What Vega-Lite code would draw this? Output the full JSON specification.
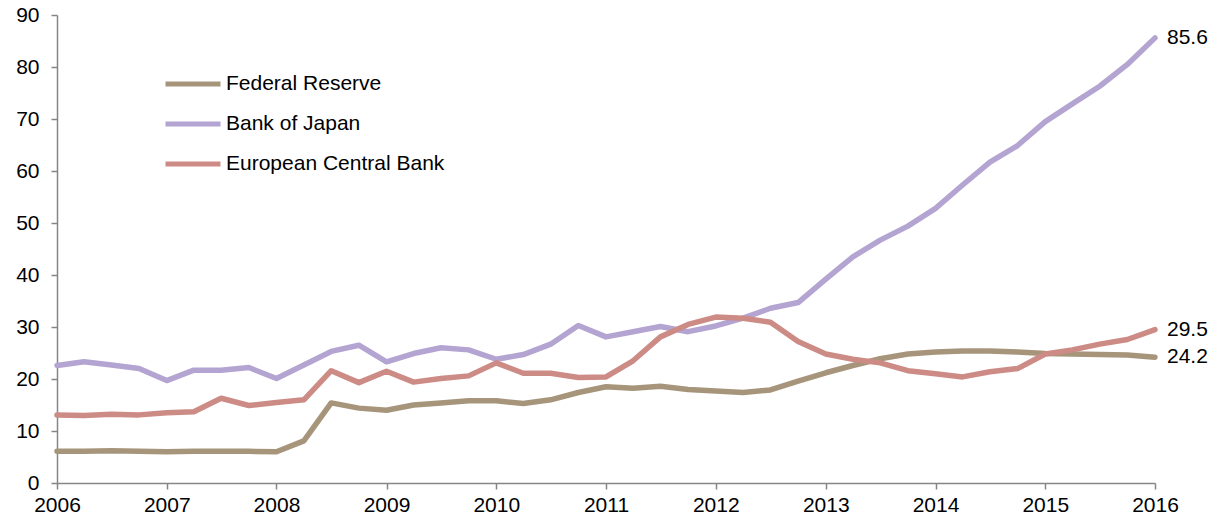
{
  "$schema": "https://vega.github.io/schema/vega-lite/v6.json",
  "width": 1098,
  "height": 468,
  "autosize": {"type": "none"},
  "padding": {"left": 57, "top": 15, "right": 65, "bottom": 37},
  "background": "white",
  "config": {
    "view": {"stroke": null},
    "font": "Liberation Sans",
    "axis": {
      "grid": false,
      "domainColor": "#868686",
      "domainWidth": 1.5,
      "tickColor": "#868686",
      "tickWidth": 1.5,
      "tickSize": 6,
      "labelFont": "Liberation Sans",
      "labelFontSize": 21,
      "labelColor": "#000000",
      "title": null
    }
  },
  "data": {
    "values": [
      {"date": "2006-01-01", "Federal Reserve": 6.1, "Bank of Japan": 22.6, "European Central Bank": 13.1},
      {"date": "2006-04-01", "Federal Reserve": 6.1, "Bank of Japan": 23.3, "European Central Bank": 13.0},
      {"date": "2006-07-01", "Federal Reserve": 6.2, "Bank of Japan": 22.7, "European Central Bank": 13.2},
      {"date": "2006-10-01", "Federal Reserve": 6.1, "Bank of Japan": 22.0, "European Central Bank": 13.1},
      {"date": "2007-01-01", "Federal Reserve": 6.0, "Bank of Japan": 19.7, "European Central Bank": 13.5},
      {"date": "2007-04-01", "Federal Reserve": 6.1, "Bank of Japan": 21.7, "European Central Bank": 13.7},
      {"date": "2007-07-01", "Federal Reserve": 6.1, "Bank of Japan": 21.7, "European Central Bank": 16.3},
      {"date": "2007-10-01", "Federal Reserve": 6.1, "Bank of Japan": 22.2, "European Central Bank": 14.9},
      {"date": "2008-01-01", "Federal Reserve": 6.0, "Bank of Japan": 20.1, "European Central Bank": 15.5},
      {"date": "2008-04-01", "Federal Reserve": 8.1, "Bank of Japan": 22.7, "European Central Bank": 16.0},
      {"date": "2008-07-01", "Federal Reserve": 15.4, "Bank of Japan": 25.3, "European Central Bank": 21.6},
      {"date": "2008-10-01", "Federal Reserve": 14.4, "Bank of Japan": 26.5, "European Central Bank": 19.3},
      {"date": "2009-01-01", "Federal Reserve": 14.0, "Bank of Japan": 23.3, "European Central Bank": 21.5},
      {"date": "2009-04-01", "Federal Reserve": 15.0, "Bank of Japan": 24.9, "European Central Bank": 19.4},
      {"date": "2009-07-01", "Federal Reserve": 15.4, "Bank of Japan": 26.0, "European Central Bank": 20.1},
      {"date": "2009-10-01", "Federal Reserve": 15.8, "Bank of Japan": 25.6, "European Central Bank": 20.6},
      {"date": "2010-01-01", "Federal Reserve": 15.8, "Bank of Japan": 23.8, "European Central Bank": 23.1},
      {"date": "2010-04-01", "Federal Reserve": 15.3, "Bank of Japan": 24.7, "European Central Bank": 21.1},
      {"date": "2010-07-01", "Federal Reserve": 16.0, "Bank of Japan": 26.7, "European Central Bank": 21.1},
      {"date": "2010-10-01", "Federal Reserve": 17.4, "Bank of Japan": 30.3, "European Central Bank": 20.3},
      {"date": "2011-01-01", "Federal Reserve": 18.5, "Bank of Japan": 28.1, "European Central Bank": 20.4},
      {"date": "2011-04-01", "Federal Reserve": 18.2, "Bank of Japan": 29.1, "European Central Bank": 23.5},
      {"date": "2011-07-01", "Federal Reserve": 18.6, "Bank of Japan": 30.1, "European Central Bank": 28.1},
      {"date": "2011-10-01", "Federal Reserve": 18.0, "Bank of Japan": 29.1, "European Central Bank": 30.5},
      {"date": "2012-01-01", "Federal Reserve": 17.7, "Bank of Japan": 30.2, "European Central Bank": 31.9},
      {"date": "2012-04-01", "Federal Reserve": 17.4, "Bank of Japan": 31.7, "European Central Bank": 31.7},
      {"date": "2012-07-01", "Federal Reserve": 17.9, "Bank of Japan": 33.6, "European Central Bank": 30.9},
      {"date": "2012-10-01", "Federal Reserve": 19.6, "Bank of Japan": 34.7, "European Central Bank": 27.2},
      {"date": "2013-01-01", "Federal Reserve": 21.2, "Bank of Japan": 39.2, "European Central Bank": 24.8},
      {"date": "2013-04-01", "Federal Reserve": 22.6, "Bank of Japan": 43.5, "European Central Bank": 23.8},
      {"date": "2013-07-01", "Federal Reserve": 23.9, "Bank of Japan": 46.7, "European Central Bank": 23.1},
      {"date": "2013-10-01", "Federal Reserve": 24.8, "Bank of Japan": 49.4, "European Central Bank": 21.6},
      {"date": "2014-01-01", "Federal Reserve": 25.2, "Bank of Japan": 52.8, "European Central Bank": 21.0},
      {"date": "2014-04-01", "Federal Reserve": 25.4, "Bank of Japan": 57.3, "European Central Bank": 20.4},
      {"date": "2014-07-01", "Federal Reserve": 25.4, "Bank of Japan": 61.7, "European Central Bank": 21.4},
      {"date": "2014-10-01", "Federal Reserve": 25.2, "Bank of Japan": 64.9, "European Central Bank": 22.0},
      {"date": "2015-01-01", "Federal Reserve": 24.9, "Bank of Japan": 69.5, "European Central Bank": 24.8},
      {"date": "2015-04-01", "Federal Reserve": 24.8, "Bank of Japan": 72.9, "European Central Bank": 25.6},
      {"date": "2015-07-01", "Federal Reserve": 24.7, "Bank of Japan": 76.3, "European Central Bank": 26.7},
      {"date": "2015-10-01", "Federal Reserve": 24.6, "Bank of Japan": 80.5, "European Central Bank": 27.6},
      {"date": "2016-01-01", "Federal Reserve": 24.2, "Bank of Japan": 85.6, "European Central Bank": 29.5}
    ]
  },
  "transform": [
    {"fold": ["Federal Reserve", "Bank of Japan", "European Central Bank"], "as": ["bank", "value"]}
  ],
  "encoding": {
    "x": {
      "field": "date",
      "type": "temporal",
      "scale": {"type": "utc", "nice": false},
      "axis": {
        "values": [
          {"year": 2006, "utc": true}, {"year": 2007, "utc": true}, {"year": 2008, "utc": true},
          {"year": 2009, "utc": true}, {"year": 2010, "utc": true}, {"year": 2011, "utc": true},
          {"year": 2012, "utc": true}, {"year": 2013, "utc": true}, {"year": 2014, "utc": true},
          {"year": 2015, "utc": true}, {"year": 2016, "utc": true}
        ],
        "labelExpr": "utcFormat(datum.value, '%Y')",
        "labelPadding": 5,
        "labelFlush": false,
        "labelOverlap": false
      }
    },
    "y": {
      "field": "value",
      "type": "quantitative",
      "scale": {"domain": [0, 90], "nice": false},
      "axis": {"values": [0, 10, 20, 30, 40, 50, 60, 70, 80, 90], "labelPadding": 12}
    },
    "color": {
      "field": "bank",
      "type": "nominal",
      "scale": {
        "domain": ["Federal Reserve", "Bank of Japan", "European Central Bank"],
        "range": ["#A6957B", "#B4A4D2", "#CD8B86"]
      },
      "legend": {
        "title": null,
        "orient": "none",
        "legendX": 106,
        "legendY": 39,
        "symbolType": "stroke",
        "symbolSize": 3025,
        "symbolStrokeWidth": 5,
        "labelFontSize": 21,
        "labelFont": "Liberation Sans",
        "labelColor": "#000000",
        "labelOffset": 3,
        "labelLimit": 400,
        "rowPadding": 0
      }
    }
  },
  "layer": [
    {"mark": {"type": "line", "strokeWidth": 5.5, "strokeCap": "round", "strokeJoin": "round"}},
    {
      "transform": [{"filter": "utcyear(datum.date) == 2016"}],
      "mark": {"type": "text", "align": "left", "baseline": "middle", "dx": 12, "fontSize": 21, "font": "Liberation Sans"},
      "encoding": {
        "text": {"field": "value", "type": "quantitative", "format": ".1f"},
        "color": {"value": "#000000"}
      }
    }
  ]
}
